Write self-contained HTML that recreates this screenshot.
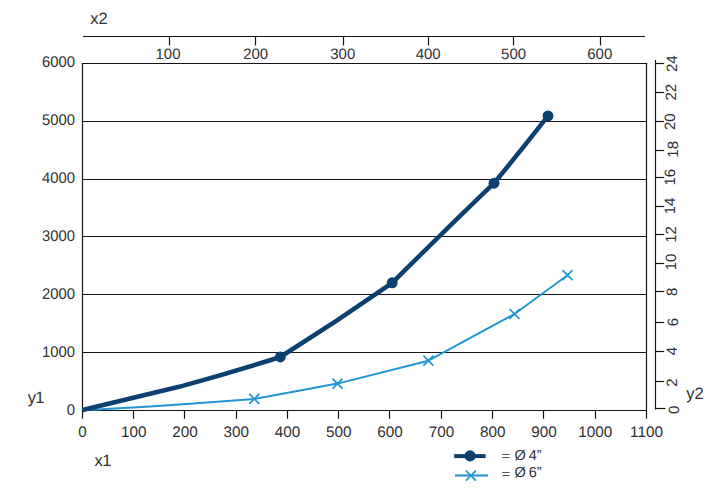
<!DOCTYPE html><html><head><meta charset="utf-8"><style>html,body{margin:0;padding:0;background:#fff;width:718px;height:496px;overflow:hidden}svg{display:block;text-rendering:geometricPrecision}text{font-family:"Liberation Sans",sans-serif;fill:#303030}</style></head><body>
<svg width="718" height="496" viewBox="0 0 718 496">
<rect width="718" height="496" fill="#fff"/>
<line x1="81.90" y1="410.50" x2="647.10" y2="410.50" stroke="#141414" stroke-width="1.20"/>
<line x1="81.90" y1="352.50" x2="647.10" y2="352.50" stroke="#141414" stroke-width="1.20"/>
<line x1="81.90" y1="294.50" x2="647.10" y2="294.50" stroke="#141414" stroke-width="1.20"/>
<line x1="81.90" y1="236.50" x2="647.10" y2="236.50" stroke="#141414" stroke-width="1.20"/>
<line x1="81.90" y1="179.50" x2="647.10" y2="179.50" stroke="#141414" stroke-width="1.20"/>
<line x1="81.90" y1="121.50" x2="647.10" y2="121.50" stroke="#141414" stroke-width="1.20"/>
<line x1="81.90" y1="63.50" x2="647.10" y2="63.50" stroke="#141414" stroke-width="1.20"/>
<line x1="82.50" y1="63.00" x2="82.50" y2="418.80" stroke="#141414" stroke-width="1.20"/>
<line x1="646.50" y1="63.00" x2="646.50" y2="418.80" stroke="#141414" stroke-width="1.20"/>
<line x1="133.50" y1="410.50" x2="133.50" y2="418.80" stroke="#141414" stroke-width="1.20"/>
<line x1="184.50" y1="410.50" x2="184.50" y2="418.80" stroke="#141414" stroke-width="1.20"/>
<line x1="236.50" y1="410.50" x2="236.50" y2="418.80" stroke="#141414" stroke-width="1.20"/>
<line x1="287.50" y1="410.50" x2="287.50" y2="418.80" stroke="#141414" stroke-width="1.20"/>
<line x1="338.50" y1="410.50" x2="338.50" y2="418.80" stroke="#141414" stroke-width="1.20"/>
<line x1="389.50" y1="410.50" x2="389.50" y2="418.80" stroke="#141414" stroke-width="1.20"/>
<line x1="441.50" y1="410.50" x2="441.50" y2="418.80" stroke="#141414" stroke-width="1.20"/>
<line x1="492.50" y1="410.50" x2="492.50" y2="418.80" stroke="#141414" stroke-width="1.20"/>
<line x1="543.50" y1="410.50" x2="543.50" y2="418.80" stroke="#141414" stroke-width="1.20"/>
<line x1="595.50" y1="410.50" x2="595.50" y2="418.80" stroke="#141414" stroke-width="1.20"/>
<text x="82.50" y="437.2" font-size="15.3" text-anchor="middle">0</text>
<text x="133.77" y="437.2" font-size="15.3" text-anchor="middle">100</text>
<text x="185.05" y="437.2" font-size="15.3" text-anchor="middle">200</text>
<text x="236.32" y="437.2" font-size="15.3" text-anchor="middle">300</text>
<text x="287.59" y="437.2" font-size="15.3" text-anchor="middle">400</text>
<text x="338.86" y="437.2" font-size="15.3" text-anchor="middle">500</text>
<text x="390.14" y="437.2" font-size="15.3" text-anchor="middle">600</text>
<text x="441.41" y="437.2" font-size="15.3" text-anchor="middle">700</text>
<text x="492.68" y="437.2" font-size="15.3" text-anchor="middle">800</text>
<text x="543.95" y="437.2" font-size="15.3" text-anchor="middle">900</text>
<text x="595.23" y="437.2" font-size="15.3" text-anchor="middle">1000</text>
<text x="646.50" y="437.2" font-size="15.3" text-anchor="middle">1100</text>
<text transform="translate(75.0 414.75) scale(0.965 1)" font-size="15.4" text-anchor="end">0</text>
<text transform="translate(75.0 356.55) scale(0.965 1)" font-size="15.4" text-anchor="end">1000</text>
<text transform="translate(75.0 298.65) scale(0.965 1)" font-size="15.4" text-anchor="end">2000</text>
<text transform="translate(75.0 240.55) scale(0.965 1)" font-size="15.4" text-anchor="end">3000</text>
<text transform="translate(75.0 182.65) scale(0.965 1)" font-size="15.4" text-anchor="end">4000</text>
<text transform="translate(75.0 124.65) scale(0.965 1)" font-size="15.4" text-anchor="end">5000</text>
<text transform="translate(75.0 67.45) scale(0.965 1)" font-size="15.4" text-anchor="end">6000</text>
<line x1="83.00" y1="36.50" x2="645.00" y2="36.50" stroke="#141414" stroke-width="1.20"/>
<line x1="169.50" y1="36.50" x2="169.50" y2="45.50" stroke="#141414" stroke-width="1.20"/>
<text x="168.00" y="58.8" font-size="15" text-anchor="middle">100</text>
<line x1="255.50" y1="36.50" x2="255.50" y2="45.50" stroke="#141414" stroke-width="1.20"/>
<text x="255.70" y="58.8" font-size="15" text-anchor="middle">200</text>
<line x1="343.50" y1="36.50" x2="343.50" y2="45.50" stroke="#141414" stroke-width="1.20"/>
<text x="342.80" y="58.8" font-size="15" text-anchor="middle">300</text>
<line x1="428.50" y1="36.50" x2="428.50" y2="45.50" stroke="#141414" stroke-width="1.20"/>
<text x="428.20" y="58.8" font-size="15" text-anchor="middle">400</text>
<line x1="513.50" y1="36.50" x2="513.50" y2="45.50" stroke="#141414" stroke-width="1.20"/>
<text x="513.60" y="58.8" font-size="15" text-anchor="middle">500</text>
<line x1="600.50" y1="36.50" x2="600.50" y2="45.50" stroke="#141414" stroke-width="1.20"/>
<text x="599.75" y="58.8" font-size="15" text-anchor="middle">600</text>
<line x1="655.50" y1="60.10" x2="655.50" y2="409.50" stroke="#141414" stroke-width="1.20"/>
<line x1="655.00" y1="63.50" x2="664.20" y2="63.50" stroke="#141414" stroke-width="1.20"/>
<text transform="translate(676.60 63.75) rotate(-90)" font-size="15" text-anchor="middle">24</text>
<line x1="655.00" y1="92.50" x2="664.20" y2="92.50" stroke="#141414" stroke-width="1.20"/>
<text transform="translate(676.00 92.20) rotate(-90)" font-size="15" text-anchor="middle">22</text>
<line x1="655.00" y1="121.50" x2="664.20" y2="121.50" stroke="#141414" stroke-width="1.20"/>
<text transform="translate(674.90 121.70) rotate(-90)" font-size="15" text-anchor="middle">20</text>
<line x1="655.00" y1="150.50" x2="664.20" y2="150.50" stroke="#141414" stroke-width="1.20"/>
<text transform="translate(678.30 149.30) rotate(-90)" font-size="15" text-anchor="middle">18</text>
<line x1="655.00" y1="177.50" x2="664.20" y2="177.50" stroke="#141414" stroke-width="1.20"/>
<text transform="translate(675.30 177.20) rotate(-90)" font-size="15" text-anchor="middle">16</text>
<line x1="655.00" y1="206.50" x2="664.20" y2="206.50" stroke="#141414" stroke-width="1.20"/>
<text transform="translate(674.90 206.00) rotate(-90)" font-size="15" text-anchor="middle">14</text>
<line x1="655.00" y1="234.50" x2="664.20" y2="234.50" stroke="#141414" stroke-width="1.20"/>
<text transform="translate(675.70 234.50) rotate(-90)" font-size="15" text-anchor="middle">12</text>
<line x1="655.00" y1="263.50" x2="664.20" y2="263.50" stroke="#141414" stroke-width="1.20"/>
<text transform="translate(676.00 262.00) rotate(-90)" font-size="15" text-anchor="middle">10</text>
<line x1="655.00" y1="291.50" x2="664.20" y2="291.50" stroke="#141414" stroke-width="1.20"/>
<text transform="translate(676.50 291.90) rotate(-90)" font-size="15" text-anchor="middle">8</text>
<line x1="655.00" y1="322.50" x2="664.20" y2="322.50" stroke="#141414" stroke-width="1.20"/>
<text transform="translate(678.00 322.00) rotate(-90)" font-size="15" text-anchor="middle">6</text>
<line x1="655.00" y1="351.50" x2="664.20" y2="351.50" stroke="#141414" stroke-width="1.20"/>
<text transform="translate(676.60 351.10) rotate(-90)" font-size="15" text-anchor="middle">4</text>
<line x1="655.00" y1="381.50" x2="664.20" y2="381.50" stroke="#141414" stroke-width="1.20"/>
<text transform="translate(677.10 382.60) rotate(-90)" font-size="15" text-anchor="middle">2</text>
<line x1="655.00" y1="408.50" x2="665.50" y2="408.50" stroke="#141414" stroke-width="1.20"/>
<text transform="translate(678.80 409.80) rotate(-90)" font-size="15" text-anchor="middle">0</text>
<text x="90.3" y="23.8" font-size="16.5">x2</text>
<text x="27.7" y="402.9" font-size="16.5" letter-spacing="-0.6">y1</text>
<text x="94.6" y="465.9" font-size="16.5" letter-spacing="-0.6">x1</text>
<text x="686.2" y="399.3" font-size="16.5">y2</text>
<path d="M82.5,410 C130,408 200,403 254.3,398.9 L337.5,383.6 L428.4,360.7 L514.5,314 L567.5,275.2" fill="none" stroke="#2196d2" stroke-width="2" stroke-linejoin="round"/>
<path d="M249.3,393.9 L259.3,403.9 M249.3,403.9 L259.3,393.9" stroke="#2196d2" stroke-width="1.7"/>
<path d="M332.5,378.6 L342.5,388.6 M332.5,388.6 L342.5,378.6" stroke="#2196d2" stroke-width="1.7"/>
<path d="M423.4,355.7 L433.4,365.7 M423.4,365.7 L433.4,355.7" stroke="#2196d2" stroke-width="1.7"/>
<path d="M509.5,309.0 L519.5,319.0 M509.5,319.0 L519.5,309.0" stroke="#2196d2" stroke-width="1.7"/>
<path d="M562.5,270.2 L572.5,280.2 M562.5,280.2 L572.5,270.2" stroke="#2196d2" stroke-width="1.7"/>
<path d="M82.5,410.0 Q130.75,398.40 179.0,386.8 Q229.99,373.05 280.3,357.0 Q337.13,321.23 392.2,282.8 Q442.68,232.57 494.0,183.2 Q521.47,149.93 548.0,115.9" fill="none" stroke="#0c4070" stroke-width="4.5" stroke-linejoin="round"/>
<circle cx="280.3" cy="357.0" r="5.45" fill="#0c4070"/>
<circle cx="392.2" cy="282.8" r="5.45" fill="#0c4070"/>
<circle cx="494.0" cy="183.2" r="5.45" fill="#0c4070"/>
<circle cx="548.0" cy="115.9" r="5.45" fill="#0c4070"/>
<line x1="454.20" y1="456.10" x2="485.60" y2="456.10" stroke="#0c4070" stroke-width="4.00"/>
<circle cx="470.1" cy="455.9" r="5.6" fill="#0c4070"/>
<line x1="455.00" y1="475.60" x2="488.10" y2="475.60" stroke="#2196d2" stroke-width="2.00"/>
<path d="M465.9,470.6 L475.9,480.6 M465.9,480.6 L475.9,470.6" stroke="#2196d2" stroke-width="1.7"/>
<text x="501.5" y="459.6" font-size="15" transform="translate(0 92.52) scale(1 0.8)">=</text>
<text x="514.4" y="459.6" font-size="14.5">Ø</text>
<text x="528.8" y="459.6" font-size="14.5">4</text>
<text x="536.8" y="459.6" font-size="14.5">”</text>
<text x="501.5" y="477.4" font-size="15" transform="translate(0 96.08) scale(1 0.8)">=</text>
<text x="514.4" y="477.4" font-size="14.5">Ø</text>
<text x="528.8" y="477.4" font-size="14.5">6</text>
<text x="536.8" y="477.4" font-size="14.5">”</text>
</svg></body></html>
